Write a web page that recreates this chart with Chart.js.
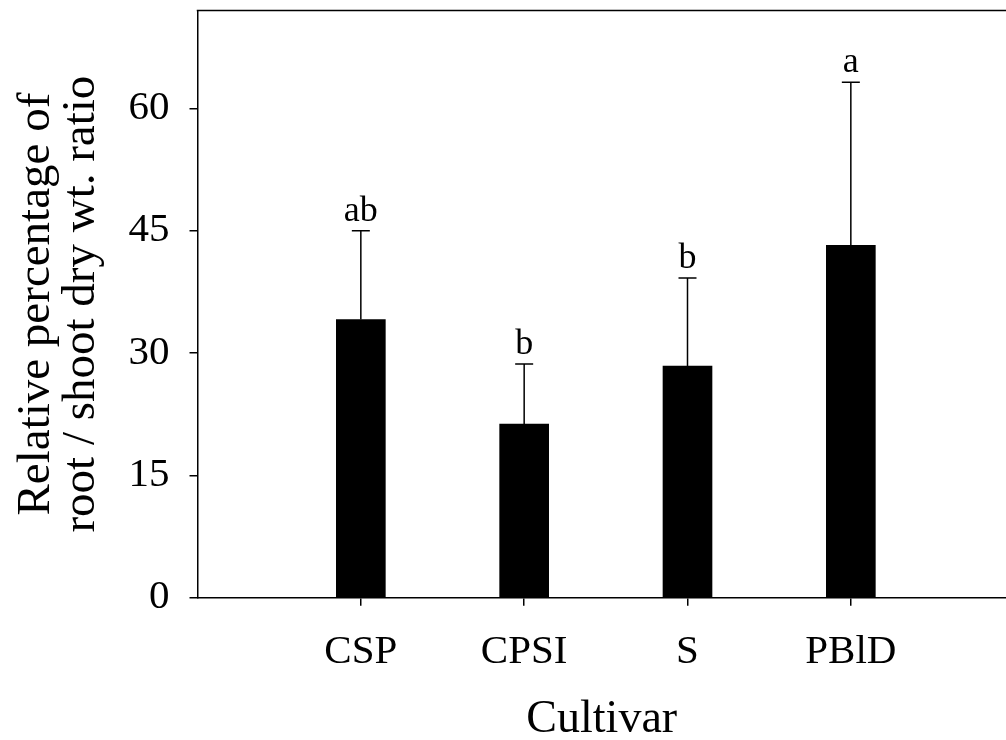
<!DOCTYPE html>
<html>
<head>
<meta charset="utf-8">
<script src="https://cdn.jsdelivr.net/npm/chart.js@4.4.1/dist/chart.umd.min.js"></script>
<style>
  body { margin: 0; background: #fff; }
  canvas { display: block; }
</style>
</head>
<body>
<canvas id="chart" width="1006" height="740"></canvas>
<script>
const categories = ['CSP', 'CPSI', 'S', 'PBlD'];
const means = [34.1, 21.3, 28.4, 43.2];
const errors = [10.9, 7.35, 10.8, 20.0];
const letters = ['ab', 'b', 'b', 'a'];
const yTicks = [0, 15, 30, 45, 60];

const serif = '"Liberation Serif", "Times New Roman", serif';

// error bars, significance letters and the top frame line
const extras = {
  id: 'extras',
  afterDatasetsDraw(chart) {
    const { ctx, chartArea, scales: { x, y } } = chart;
    ctx.save();
    ctx.strokeStyle = '#000';
    ctx.lineWidth = 1.5;
    ctx.beginPath();
    ctx.moveTo(chartArea.left - 0.75, chartArea.top);
    ctx.lineTo(chartArea.right, chartArea.top);
    ctx.stroke();

    ctx.fillStyle = '#000';
    ctx.font = '36px ' + serif;
    ctx.textAlign = 'center';
    ctx.textBaseline = 'alphabetic';
    means.forEach((m, i) => {
      const px = x.getPixelForValue(i + 1);
      const top = y.getPixelForValue(m + errors[i]);
      const base = y.getPixelForValue(m);
      ctx.beginPath();
      ctx.moveTo(px, base);
      ctx.lineTo(px, top);
      ctx.moveTo(px - 9, top);
      ctx.lineTo(px + 9, top);
      ctx.stroke();
      ctx.fillText(letters[i], px, top - 10);
    });
    ctx.restore();
  }
};

new Chart(document.getElementById('chart'), {
  type: 'bar',
  data: {
    datasets: [{
      data: means.map((v, i) => ({ x: i + 1, y: v })),
      backgroundColor: '#000',
      borderWidth: 0,
      barThickness: 49
    }]
  },
  options: {
    responsive: false,
    animation: false,
    layout: { padding: { top: 10.5, right: 0, left: 0, bottom: 0 } },
    plugins: { legend: { display: false }, tooltip: { enabled: false } },
    scales: {
      x: {
        type: 'linear',
        min: 0,
        max: 4.95,
        offset: false,
        afterBuildTicks: s => { s.ticks = categories.map((c, i) => ({ value: i + 1 })); },
        afterFit: s => { s.height = 142.3; s.paddingLeft = 0; s.paddingRight = 0; },
        grid: { drawOnChartArea: false, offset: false, color: '#000', lineWidth: 1.5, tickLength: 8 },
        border: { display: true, color: '#000', width: 1.5 },
        ticks: {
          color: '#000',
          font: { family: serif, size: 41 },
          padding: 22,
          maxRotation: 0,
          callback: v => categories[v - 1]
        },
        title: {
          display: true,
          text: 'Cultivar',
          color: '#000',
          font: { family: serif, size: 46, lineHeight: 1 },
          padding: { top: 0, bottom: -3 }
        }
      },
      y: {
        min: 0,
        max: 72,
        afterBuildTicks: s => { s.ticks = yTicks.map(v => ({ value: v })); },
        afterFit: s => { s.width = 197.5; s.paddingTop = 0; s.paddingBottom = 0; },
        grid: { drawOnChartArea: false, color: '#000', lineWidth: 1.5, tickLength: 8 },
        border: { display: true, color: '#000', width: 1.5 },
        ticks: {
          color: '#000',
          font: { family: serif, size: 41 },
          padding: 20
        },
        title: {
          display: true,
          text: ['Relative percentage of', 'root / shoot dry wt. ratio'],
          color: '#000',
          font: { family: serif, size: 47, lineHeight: 0.96 },
          padding: { top: 14, bottom: 0 }
        }
      }
    }
  },
  plugins: [extras]
});
</script>
</body>
</html>
